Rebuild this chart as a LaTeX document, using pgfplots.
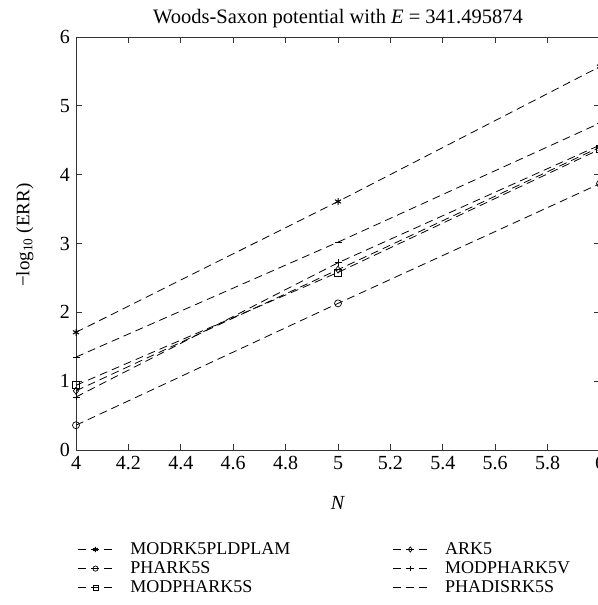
\documentclass[border=0pt]{standalone}
\usepackage{fontspec}
\setmainfont{Liberation Serif}
\usepackage{pgfplots}
\pgfplotsset{compat=1.18}
\begin{document}
\fontsize{18}{20}\selectfont
\begin{tikzpicture}
\begin{axis}[
  scale only axis, width=524pt, height=413pt,
  xmin=4, xmax=6, ymin=0, ymax=6,
  xtick={4,4.2,4.4,4.6,4.8,5,5.2,5.4,5.6,5.8,6},
  ytick={0,1,2,3,4,5,6},
  tick align=inside, major tick length=6pt,
  axis line style={line width=0.9pt, black!80},
  every tick/.style={black!80, line width=0.8pt},
  /pgf/number format/assume math mode=true,
  tick label style={font=\fontsize{20}{20}\selectfont},
  title={Woods-Saxon potential with \textit{E} = 341.495874},
  title style={font=\fontsize{20.5}{22}\selectfont, yshift=-3pt},
  xlabel={\textit{N}},
  xlabel style={at={(axis description cs:0.5,-0.128)}, anchor=center, font=\fontsize{20}{22}\selectfont},
  ylabel={−log\textsubscript{10} (ERR)},
  ylabel style={at={(axis description cs:-0.0975,0.52)}, anchor=center, font=\fontsize{19}{21}\selectfont},
  legend columns=2,
  legend cell align=left,
  legend style={draw=none, fill=none, at={(axis description cs:0.475,-0.213)}, anchor=north,
    font=\fontsize{18}{18}\selectfont, row sep=0.5pt,
    /tikz/every odd column/.append style={column sep=15pt},
    /tikz/every even column/.append style={column sep=100pt}},
  legend image code/.code={\draw[mark repeat=2,mark phase=2,#1,mark size=2.6pt] plot coordinates {(0pt,0pt) (17.5pt,0pt) (35pt,0pt)};},
  every axis plot/.append style={black, line width=0.8pt, dash pattern=on 8pt off 5pt, mark size=3.5pt, mark options={solid, line width=0.7pt}},
]
\addplot[black, mark=asterisk, mark options={line width=1pt}] coordinates {(4,1.71) (5,3.61) (6,5.57)};
\addlegendentry{MODRK5PLDPLAM}
\addplot[black, mark=diamond] coordinates {(4,0.86) (5,2.62) (6,4.40)};
\addlegendentry{ARK5}
\addplot[black, mark=o] coordinates {(4,0.36) (5,2.13) (6,3.87)};
\addlegendentry{PHARK5S}
\addplot[black, mark=+] coordinates {(4,0.77) (5,2.72) (6,4.43)};
\addlegendentry{MODPHARK5V}
\addplot[black, mark=square] coordinates {(4,0.94) (5,2.58) (6,4.37)};
\addlegendentry{MODPHARK5S}
\addplot[black, mark=-] coordinates {(4,1.35) (5,3.02) (6,4.75)};
\addlegendentry{PHADISRK5S}
\coordinate (A) at (rel axis cs:0,0);
\coordinate (B) at (rel axis cs:1,1);
\end{axis}
\pgfresetboundingbox
\path[use as bounding box] ([shift={(-76pt,-155pt)}]A) rectangle ([shift={(-3pt,37pt)}]B);
\end{tikzpicture}
\end{document}
